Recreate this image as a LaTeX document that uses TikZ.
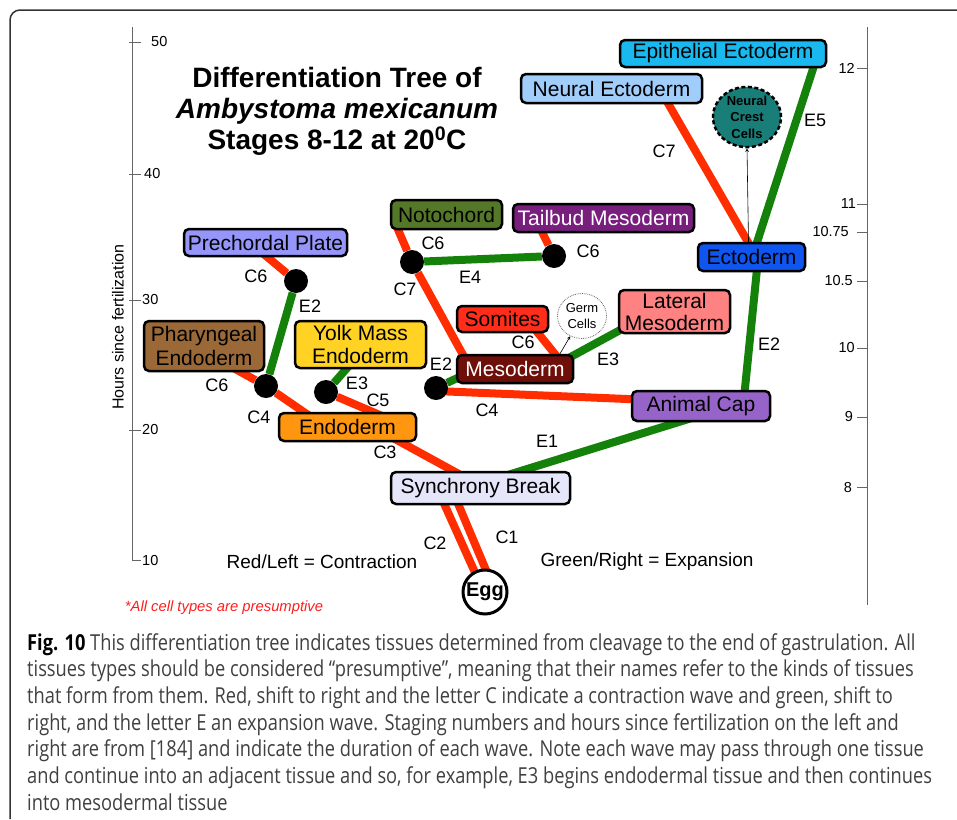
\documentclass[tikz,border=0pt]{standalone}
\usepackage{fontspec}
\setmainfont{Liberation Sans}
\newfontfamily\capfont[FakeStretch=0.83]{Open Sans}
\usetikzlibrary{backgrounds,calc,shapes.geometric}

\definecolor{contr}{RGB}{255,45,0}
\definecolor{expan}{RGB}{20,130,10}
\definecolor{epicol}{RGB}{25,185,240}
\definecolor{neurcol}{RGB}{160,205,250}
\definecolor{crestcol}{RGB}{25,125,120}
\definecolor{ectocol}{RGB}{15,85,240}
\definecolor{tailcol}{RGB}{120,30,125}
\definecolor{notocol}{RGB}{85,120,40}
\definecolor{precol}{RGB}{150,150,250}
\definecolor{pharcol}{RGB}{155,105,55}
\definecolor{yolkcol}{RGB}{255,210,35}
\definecolor{endocol}{RGB}{255,150,15}
\definecolor{synccol}{RGB}{230,230,250}
\definecolor{somcol}{RGB}{255,45,25}
\definecolor{mesocol}{RGB}{110,15,10}
\definecolor{latcol}{RGB}{255,130,130}
\definecolor{capcol}{RGB}{150,100,200}
\definecolor{notecol}{RGB}{255,30,30}

\tikzset{
  tissue/.style={draw, line width=2.5pt, rounded corners=5pt, inner sep=0pt,
    align=center, font=\fontsize{21}{23.5}\selectfont},
  branch/.style={circle, fill=black, minimum size=24pt, inner sep=0pt},
  wave/.style={line width=8pt},
  contraction/.style={wave, contr},
  expansion/.style={wave, expan},
  wavelabel/.style={font=\fontsize{18}{20}\selectfont, inner sep=0pt},
  ticklabel/.style={font=\fontsize{14.5}{16}\selectfont, inner sep=0pt},
  axisline/.style={black!60, line width=0.9pt}
}

\begin{document}
\begin{tikzpicture}[x=1pt, y=-1pt]
  \useasboundingbox (0,0) rectangle (957,819);
  \draw[line width=1.5pt, black!80, rounded corners=10pt] (10,819) |- (957,10);

  % hours since fertilization
  \draw[axisline] (132,27) -- (132,560) -- (141,560);
  \draw[axisline] (129,42) -- (141,42);
  \draw[axisline] (129,174) -- (141,174);
  \draw[axisline] (129,300) -- (141,300);
  \draw[axisline] (129,430) -- (141,430);
  \node[ticklabel, anchor=west] (h50) at (151,42) {50};
  \node[ticklabel, anchor=west] (h40) at (144,174) {40};
  \node[ticklabel, anchor=west] (h30) at (142,300) {30};
  \node[ticklabel, anchor=west] (h20) at (142,430) {20};
  \node[ticklabel, anchor=west] (h10) at (142,560) {10};
  \node[font=\fontsize{16}{18}\selectfont, rotate=90] (hours) at (118,327) {Hours since fertilization};

  % stages
  \draw[axisline] (867,27) -- (867,605);
  \draw[axisline] (857,68) -- (867,68);
  \draw[axisline] (857,204) -- (867,204);
  \draw[axisline] (857,232) -- (867,232);
  \draw[axisline] (857,281) -- (867,281);
  \draw[axisline] (857,348) -- (867,348);
  \draw[axisline] (857,417) -- (867,417);
  \draw[axisline] (857,487) -- (867,487);
  \node[ticklabel, anchor=east] (s12) at (855,68) {12};
  \node[ticklabel, anchor=east] (s11) at (856,204) {11};
  \node[ticklabel, anchor=east] (s1075) at (849,232) {10.75};
  \node[ticklabel, anchor=east] (s105) at (853,281) {10.5};
  \node[ticklabel, anchor=east] (s10) at (855,348) {10};
  \node[ticklabel, anchor=east] (s9) at (853,417) {9};
  \node[ticklabel, anchor=east] (s8) at (852,487) {8};

  \node[align=center, font=\bfseries\fontsize{28}{31}\selectfont] (title) at (337,111)
    {Differentiation Tree of\\\textit{Ambystoma mexicanum}\\Stages 8-12 at 20\textsuperscript{0}C};

  % tissues
  \node[tissue, fill=epicol, minimum width=206pt, minimum height=27pt] (epi) at (723,53.5) {Epithelial Ectoderm};
  \node[tissue, fill=neurcol, minimum width=181pt, minimum height=29pt] (neur) at (611.5,88.5) {Neural Ectoderm};
  \node[ellipse, draw, fill=crestcol, line width=2.5pt, dash pattern=on 4pt off 2.5pt,
    minimum width=68pt, minimum height=58pt, inner sep=0pt, align=center,
    font=\bfseries\fontsize{13}{16.5}\selectfont] (crest) at (747,117) {Neural\\Crest\\Cells};
  \node[tissue, fill=ectocol, minimum width=107pt, minimum height=28pt] (ecto) at (751.5,257) {Ectoderm};
  \node[tissue, fill=tailcol, text=white, minimum width=181pt, minimum height=28pt] (tail) at (603.5,218) {Tailbud Mesoderm};
  \node[tissue, fill=notocol, minimum width=111pt, minimum height=29pt] (noto) at (446.5,214.5) {Notochord};
  \node[tissue, fill=precol, minimum width=163pt, minimum height=27pt] (pre) at (265.5,242.5) {Prechordal Plate};
  \node[tissue, fill=pharcol, minimum width=120pt, minimum height=50pt] (phar) at (204,346) {Pharyngeal\\Endoderm};
  \node[tissue, fill=yolkcol, minimum width=131pt, minimum height=47pt] (yolk) at (360.5,344.5) {Yolk Mass\\Endoderm};
  \node[tissue, fill=endocol, minimum width=137pt, minimum height=28pt] (endo) at (347.5,427) {Endoderm};
  \node[tissue, fill=synccol, minimum width=179pt, minimum height=32pt] (sync) at (480.5,488) {Synchrony Break};
  \node[circle, draw, fill=white, line width=3pt, minimum size=44pt, inner sep=0pt,
    font=\bfseries\fontsize{20}{22}\selectfont] (egg) at (485,592) {Egg};
  \node[tissue, fill=somcol, minimum width=91pt, minimum height=26pt] (somites) at (502.5,319) {Somites};
  \node[ellipse, draw=black!60, densely dotted, line width=0.8pt, minimum width=49pt,
    minimum height=45pt, inner sep=0pt, align=center,
    font=\fontsize{13}{16}\selectfont] (germ) at (582,316) {Germ\\Cells};
  \node[tissue, fill=mesocol, text=white, minimum width=116pt, minimum height=28pt] (meso) at (515,369) {Mesoderm};
  \node[tissue, fill=latcol, minimum width=111pt, minimum height=43pt,
    font=\fontsize{21}{22}\selectfont] (lat) at (674.5,311.5) {Lateral\\Mesoderm};
  \node[tissue, fill=capcol, minimum width=138pt, minimum height=30pt] (cap) at (701,406) {Animal Cap};

  % branch points
  \node[branch] (dpre) at (296,281) {};
  \node[branch] (dnoto) at (412,262) {};
  \node[branch] (dtail) at (554,256) {};
  \node[branch] (dphar) at (266,386) {};
  \node[branch] (dyolk) at (326,392) {};
  \node[branch] (dmeso) at (436,388) {};

  \begin{pgfonlayer}{background}
    % contraction waves
    \draw[contraction] ($(egg.north)+(-10,4)$) -- ($(sync.south)+(-37.5,-4)$);
    \draw[contraction] ($(egg.north)+(2,4)$) -- ($(sync.south)+(-23.5,-4)$);
    \draw[contraction] ($(sync.center)+(-18,-12)$) -- ($(endo.center)+(42,9)$);
    \draw[contraction] (dyolk) -- ($(endo.center)+(37,-10)$);
    \draw[contraction] ($(endo.center)+(-32,-7)$) -- (dphar) -- ($(phar.center)+(24,19)$);
    \draw[contraction] (dpre) -- ($(pre.center)+(-6,8)$);
    \draw[contraction] ($(dmeso.center)+(0,3)$) -- ($(cap.center)+(-50,-6)$);
    \draw[contraction] ($(meso.center)+(-47,-5)$) -- (dnoto) -- ($(noto.center)+(-52,7)$);
    \draw[contraction] (dtail) -- ($(tail.center)+(-65,7)$);
    \draw[contraction] ($(meso.center)+(48,-5)$) -- ($(somites.center)+(29,6)$);
    \draw[contraction] ($(ecto.center)+(1,-7)$) -- ($(neur.center)+(52,7)$);
    % expansion waves
    \draw[expansion] ($(sync.center)+(24,-12)$) -- ($(cap.center)+(-6,11)$);
    \draw[expansion] ($(cap.center)+(43,-8)$) -- ($(ecto.center)+(6,7)$);
    \draw[expansion] ($(ecto.center)+(3,-7)$) -- ($(epi.center)+(93,6)$);
    \draw[expansion] (dphar) -- (dpre);
    \draw[expansion] (dyolk) -- ($(yolk.center)+(-6,15)$);
    \draw[expansion] (dnoto) -- (dtail);
    \draw[expansion] (dmeso) -- ($(meso.center)+(-49,5)$);
    \draw[expansion] ($(meso.center)+(50,-9)$) -- ($(lat.center)+(-46,14)$);
  \end{pgfonlayer}

  \draw[-stealth, line width=0.6pt] ($(meso.north)+(45,0)$) -- (germ);
  \draw[-stealth, line width=0.6pt] ($(ecto.north)+(-3,0)$) -- (crest.south);

  % wave labels
  \node[wavelabel] (c6pre) at (256,276) {C6};
  \node[wavelabel] (e2pre) at (310,306) {E2};
  \node[wavelabel] (c6phar) at (217,385) {C6};
  \node[wavelabel] (c4endo) at (259,417) {C4};
  \node[wavelabel] (e3yolk) at (357,383) {E3};
  \node[wavelabel] (c5) at (378,400) {C5};
  \node[wavelabel] (c3) at (385,452) {C3};
  \node[wavelabel] (c2) at (435,543) {C2};
  \node[wavelabel] (c1) at (507,537) {C1};
  \node[wavelabel] (e2meso) at (441,364) {E2};
  \node[wavelabel] (c4cap) at (487,410) {C4};
  \node[wavelabel] (c6noto) at (433,243) {C6};
  \node[wavelabel] (c7noto) at (405,289) {C7};
  \node[wavelabel] (e4) at (470,277) {E4};
  \node[wavelabel] (c6tail) at (588,251) {C6};
  \node[wavelabel] (c6som) at (523,342) {C6};
  \node[wavelabel] (e3lat) at (608,359) {E3};
  \node[wavelabel] (e1) at (547,441) {E1};
  \node[wavelabel] (e2cap) at (769,344) {E2};
  \node[wavelabel] (c7ecto) at (664,151) {C7};
  \node[wavelabel] (e5) at (815,120) {E5};

  % legend
  \node[font=\fontsize{19}{21}\selectfont] (redleft) at (322,562) {Red/Left = Contraction};
  \node[font=\fontsize{19}{21}\selectfont] (greenright) at (647,562) {Green/Right = Expansion};
  \node[font=\itshape\fontsize{14.8}{16}\selectfont, text=notecol] (note) at (224,608) {*All cell types are presumptive};

  \node[anchor=north west, align=left, inner sep=0pt, text=black!75,
    font=\capfont\fontsize{22}{26.7}\selectfont] (caption) at (27,633)
    {\textcolor{black}{\textbf{Fig. 10}} This differentiation tree indicates tissues determined from cleavage to the end of gastrulation. All\\
     tissues types should be considered “presumptive”, meaning that their names refer to the kinds of tissues\\
     that form from them. Red, shift to right and the letter C indicate a contraction wave and green, shift to\\
     right, and the letter E an expansion wave. Staging numbers and hours since fertilization on the left and\\
     right are from [184] and indicate the duration of each wave. Note each wave may pass through one tissue\\
     and continue into an adjacent tissue and so, for example, E3 begins endodermal tissue and then continues\\
     into mesodermal tissue};
\end{tikzpicture}
\end{document}
